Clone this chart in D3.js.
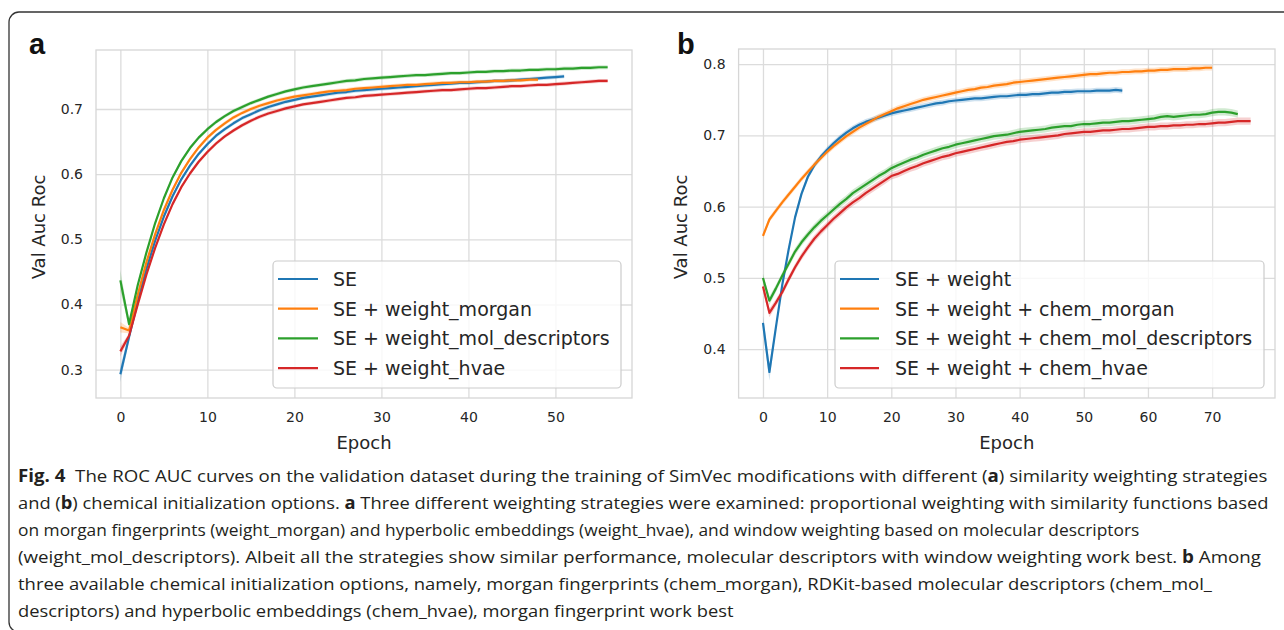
<!DOCTYPE html>
<html>
<head>
<meta charset="utf-8">
<script src="https://cdn.jsdelivr.net/npm/d3@7"></script>
<style>
body { margin: 0; background: #fff; }
svg { display: block; }
</style>
</head>
<body>
<div id="chart"></div>
<script>
// ---- data (value per epoch, index = epoch) ----
var namesA = ["SE", "SE + weight_morgan", "SE + weight_mol_descriptors", "SE + weight_hvae"];
var namesB = ["SE + weight", "SE + weight + chem_morgan", "SE + weight + chem_mol_descriptors", "SE + weight + chem_hvae"];

var aSE = [0.293,0.350,0.405,0.455,0.498,0.535,0.566,0.592,0.613,0.631,
  0.646,0.659,0.669,0.678,0.686,0.692,0.698,0.703,0.707,0.711,
  0.714,0.717,0.719,0.721,0.723,0.725,0.726,0.728,0.729,0.730,
  0.731,0.732,0.733,0.734,0.735,0.736,0.737,0.738,0.739,0.740,
  0.740,0.741,0.742,0.743,0.743,0.744,0.745,0.746,0.747,0.748,
  0.749,0.750];
var aMorgan = [0.365,0.360,0.415,0.465,0.508,0.545,0.576,0.602,0.623,0.641,
  0.656,0.668,0.678,0.687,0.694,0.700,0.705,0.709,0.713,0.716,
  0.719,0.721,0.723,0.725,0.727,0.728,0.729,0.731,0.732,0.733,
  0.734,0.735,0.736,0.737,0.737,0.738,0.739,0.740,0.740,0.741,
  0.741,0.742,0.742,0.743,0.743,0.744,0.744,0.745,0.745];
var aMol = [0.437,0.370,0.430,0.480,0.525,0.563,0.595,0.620,0.640,0.656,
  0.669,0.680,0.689,0.697,0.703,0.709,0.714,0.719,0.723,0.727,
  0.730,0.733,0.735,0.737,0.739,0.741,0.743,0.744,0.746,0.747,
  0.748,0.749,0.750,0.751,0.752,0.752,0.753,0.754,0.755,0.755,
  0.756,0.757,0.757,0.758,0.758,0.759,0.759,0.760,0.760,0.761,
  0.761,0.762,0.762,0.763,0.763,0.764,0.764];
var aHvae = [0.328,0.352,0.400,0.446,0.487,0.523,0.554,0.580,0.601,0.619,
  0.634,0.647,0.658,0.667,0.675,0.682,0.688,0.693,0.697,0.701,
  0.704,0.707,0.709,0.711,0.713,0.715,0.717,0.718,0.720,0.721,
  0.722,0.723,0.724,0.725,0.726,0.727,0.728,0.729,0.729,0.730,
  0.731,0.732,0.732,0.733,0.734,0.735,0.735,0.736,0.737,0.737,
  0.738,0.739,0.740,0.741,0.742,0.743,0.743];

var bWeight = [0.437,0.368,0.430,0.490,0.540,0.585,0.618,0.642,0.658,0.670,
  0.680,0.689,0.697,0.704,0.710,0.715,0.719,0.722,0.725,0.728,
  0.731,0.733,0.735,0.737,0.739,0.741,0.743,0.745,0.746,0.748,
  0.749,0.750,0.751,0.752,0.752,0.753,0.754,0.755,0.755,0.756,
  0.757,0.757,0.758,0.758,0.759,0.760,0.760,0.761,0.761,0.762,
  0.762,0.762,0.763,0.763,0.763,0.764,0.763];
var bMorgan = [0.559,0.582,0.594,0.606,0.617,0.628,0.639,0.649,0.659,0.668,
  0.677,0.685,0.692,0.699,0.705,0.711,0.716,0.721,0.726,0.730,
  0.734,0.738,0.741,0.744,0.747,0.750,0.752,0.754,0.756,0.758,
  0.760,0.762,0.764,0.765,0.767,0.768,0.770,0.771,0.772,0.774,
  0.775,0.776,0.777,0.778,0.779,0.780,0.781,0.782,0.783,0.784,
  0.785,0.786,0.786,0.787,0.788,0.788,0.789,0.789,0.790,0.790,
  0.791,0.791,0.792,0.792,0.793,0.793,0.793,0.794,0.794,0.795,
  0.795];
var bMol = [0.500,0.468,0.485,0.503,0.520,0.537,0.550,0.561,0.571,0.580,
  0.588,0.596,0.604,0.611,0.619,0.625,0.631,0.637,0.643,0.648,
  0.654,0.658,0.662,0.666,0.669,0.673,0.676,0.679,0.682,0.684,
  0.687,0.689,0.691,0.693,0.695,0.697,0.699,0.700,0.701,0.703,
  0.705,0.706,0.707,0.708,0.709,0.711,0.712,0.713,0.713,0.715,
  0.716,0.716,0.717,0.718,0.718,0.719,0.720,0.720,0.721,0.722,
  0.723,0.724,0.726,0.727,0.726,0.727,0.728,0.729,0.729,0.730,
  0.732,0.733,0.733,0.732,0.730];
var bHvae = [0.488,0.451,0.465,0.480,0.498,0.515,0.530,0.543,0.555,0.565,
  0.574,0.583,0.591,0.599,0.606,0.612,0.619,0.625,0.631,0.637,
  0.643,0.646,0.650,0.654,0.657,0.661,0.664,0.667,0.670,0.672,
  0.675,0.677,0.679,0.681,0.683,0.685,0.687,0.689,0.691,0.692,
  0.694,0.695,0.696,0.697,0.698,0.699,0.700,0.702,0.703,0.704,
  0.705,0.705,0.706,0.707,0.707,0.708,0.709,0.709,0.710,0.711,
  0.712,0.712,0.713,0.713,0.714,0.714,0.715,0.715,0.716,0.716,
  0.717,0.718,0.718,0.719,0.720,0.720,0.720];

// half width of the shaded band: first epochs, then the rest
var spreadA = [[0.012, 0.006, 0.003], [0.008, 0.004, 0.003], [0.016, 0.006, 0.003], [0.008, 0.004, 0.003]];
var spreadB = [[0.010, 0.012, 0.004], [0.004, 0.004, 0.004], [0.006, 0.006, 0.005], [0.006, 0.006, 0.005]];

var xTicksA = [0, 10, 20, 30, 40, 50];
var yTicksA = [0.3, 0.4, 0.5, 0.6, 0.7];
var xTicksB = [0, 10, 20, 30, 40, 50, 60, 70];
var yTicksB = [0.4, 0.5, 0.6, 0.7, 0.8];

var colors = ["#1f77b4", "#ff7f0e", "#2ca02c", "#d62728"];

var caption = [
  [["Fig. 4", 1], ["  The ROC AUC curves on the validation dataset during the training of SimVec modifications with different (", 0], ["a", 1], [") similarity weighting strategies", 0]],
  [["and (", 0], ["b", 1], [") chemical initialization options. ", 0], ["a", 1], [" Three different weighting strategies were examined: proportional weighting with similarity functions based", 0]],
  [["on morgan fingerprints (weight_morgan) and hyperbolic embeddings (weight_hvae), and window weighting based on molecular descriptors", 0]],
  [["(weight_mol_descriptors). Albeit all the strategies show similar performance, molecular descriptors with window weighting work best. ", 0], ["b", 1], [" Among", 0]],
  [["three available chemical initialization options, namely, morgan fingerprints (chem_morgan), RDKit-based molecular descriptors (chem_mol_", 0]],
  [["descriptors) and hyperbolic embeddings (chem_hvae), morgan fingerprint work best", 0]]
];
// right ends of the full caption lines (the last line is left at the mean scale)
var captionEnds = [1268, 1270, 1140, 1262, 1212];

// ---- drawing ----
var width = 1284, height = 630;
var svg = d3.select("#chart").append("svg")
    .attr("width", width)
    .attr("height", height);

svg.append("rect").attr("width", width).attr("height", height).attr("fill", "#fff");

// frame round the figure
svg.append("rect")
    .attr("x", 9).attr("y", 12)
    .attr("width", 1300).attr("height", 620)
    .attr("rx", 10)
    .attr("fill", "none")
    .attr("stroke", "#333")
    .attr("stroke-width", 1.3);

var tickFont = "DejaVu Sans, sans-serif";

function drawPanel(p) {
    var x = d3.scaleLinear().domain(p.xDomain).range([p.left, p.right]);
    var y = d3.scaleLinear().domain(p.yDomain).range([p.bottom, p.top]);
    var g = svg.append("g");

    // grid + tick labels
    var xa = g.append("g")
        .attr("transform", "translate(0," + p.bottom + ")")
        .call(d3.axisBottom(x).tickValues(p.xTicks).tickFormat(d3.format("d"))
            .tickSize(-(p.bottom - p.top)).tickPadding(14));
    var ya = g.append("g")
        .attr("transform", "translate(" + p.left + ",0)")
        .call(d3.axisLeft(y).tickValues(p.yTicks).tickFormat(d3.format(".1f"))
            .tickSize(-(p.right - p.left)).tickPadding(13));
    [xa, ya].forEach(function (a) {
        a.select(".domain").remove();
        a.selectAll("line").attr("stroke", "#dcdcdc").attr("stroke-width", 1.3);
        a.selectAll("text").attr("fill", "#262626")
            .style("font-family", tickFont).style("font-size", "14px");
    });

    g.append("rect")
        .attr("x", p.left).attr("y", p.top)
        .attr("width", p.right - p.left).attr("height", p.bottom - p.top)
        .attr("fill", "none").attr("stroke", "#d6d6d6").attr("stroke-width", 1.3);

    // bands and lines
    p.series.forEach(function (vals, k) {
        var sp = p.spread[k];
        var half = function (i) { return i < sp.length - 1 ? sp[i] : sp[sp.length - 1]; };
        var area = d3.area()
            .x(function (d, i) { return x(i); })
            .y0(function (d, i) { return y(d - half(i)); })
            .y1(function (d, i) { return y(d + half(i)); });
        g.append("path").datum(vals)
            .attr("d", area)
            .attr("fill", colors[k]).attr("fill-opacity", 0.22);
    });
    p.series.forEach(function (vals, k) {
        var line = d3.line()
            .x(function (d, i) { return x(i); })
            .y(function (d) { return y(d); });
        g.append("path").datum(vals)
            .attr("d", line)
            .attr("fill", "none")
            .attr("stroke", colors[k])
            .attr("stroke-width", 2.2)
            .attr("stroke-linejoin", "round");
    });

    // axis titles
    g.append("text")
        .attr("x", (p.left + p.right) / 2).attr("y", 449)
        .attr("text-anchor", "middle")
        .attr("fill", "#262626")
        .style("font-family", tickFont).style("font-size", "18px")
        .text("Epoch");
    g.append("text")
        .attr("transform", "translate(" + p.ylabelX + ",227) rotate(-90)")
        .attr("text-anchor", "middle")
        .attr("dy", "0.35em")
        .attr("fill", "#262626")
        .style("font-family", tickFont).style("font-size", "18px")
        .text("Val Auc Roc");

    // legend
    var L = p.legend;
    var lg = g.append("g");
    lg.append("rect")
        .attr("x", L.x).attr("y", L.y).attr("width", L.w).attr("height", L.h)
        .attr("rx", 4)
        .attr("fill", "#fff").attr("fill-opacity", 0.8)
        .attr("stroke", "#cccccc").attr("stroke-width", 1.2);
    p.names.forEach(function (name, k) {
        var cy = L.y + 18 + k * 29.7;
        lg.append("line")
            .attr("x1", L.x + 5).attr("x2", L.x + L.handle)
            .attr("y1", cy).attr("y2", cy)
            .attr("stroke", colors[k]).attr("stroke-width", 2.2);
        lg.append("text")
            .attr("x", L.x + L.textDx).attr("y", cy)
            .attr("dy", "0.36em")
            .attr("fill", "#262626")
            .style("font-family", tickFont).style("font-size", "19px")
            .text(name);
    });

    // panel letter
    svg.append("text")
        .attr("x", p.labelX).attr("y", 54)
        .style("font-family", "Liberation Sans, Arial, sans-serif")
        .style("font-weight", "bold").style("font-size", "29px")
        .attr("fill", "#111")
        .text(p.label);
}

drawPanel({
    left: 96, right: 632, top: 50, bottom: 398,
    xDomain: [-2.8, 58.8], yDomain: [0.2565, 0.7905],
    series: [aSE, aMorgan, aMol, aHvae], spread: spreadA, names: namesA,
    xTicks: xTicksA, yTicks: yTicksA,
    legend: { x: 273, y: 261, w: 348, h: 127, handle: 45, textDx: 60 },
    label: "a", labelX: 29, ylabelX: 39
});

drawPanel({
    left: 738.6, right: 1275, top: 49, bottom: 398,
    xDomain: [-3.8, 79.8], yDomain: [0.3315, 0.8213],
    series: [bWeight, bMorgan, bMol, bHvae], spread: spreadB, names: namesB,
    xTicks: xTicksB, yTicks: yTicksB,
    legend: { x: 835, y: 261, w: 429, h: 127, handle: 44, textDx: 60 },
    label: "b", labelX: 677, ylabelX: 681
});

// caption: each full line fitted to its right end, last line at the mean scale
var scales = [];
caption.forEach(function (parts, i) {
    var t = svg.append("text")
        .attr("x", 0).attr("y", 0)
        .attr("fill", "#231f20")
        .style("font-family", "Open Sans, Noto Sans, sans-serif")
        .style("font-size", "17px")
        .attr("xml:space", "preserve");
    parts.forEach(function (pt) {
        t.append("tspan")
            .style("font-weight", pt[1] ? "bold" : "normal")
            .text(pt[0]);
    });
    var k;
    if (i < captionEnds.length) {
        k = (captionEnds[i] - 18) / t.node().getComputedTextLength();
        scales.push(k);
    } else {
        k = d3.mean(scales);
    }
    t.attr("transform", "translate(18," + (482 + i * 27) + ") scale(" + k + ",1)");
});
</script>
</body>
</html>
